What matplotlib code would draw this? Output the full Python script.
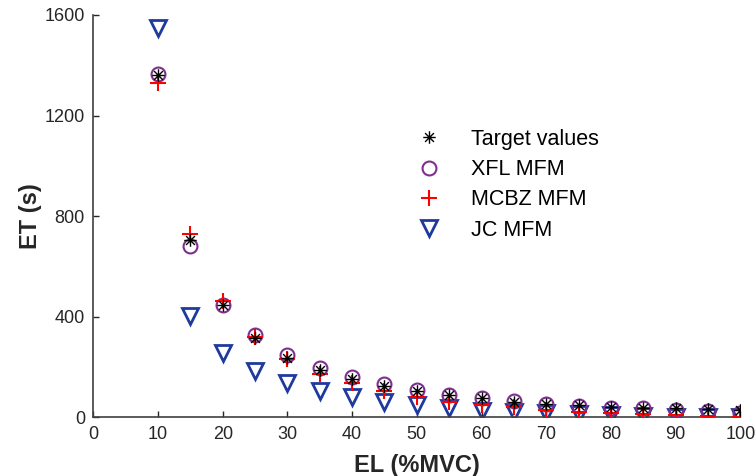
import numpy as np
import matplotlib
matplotlib.use("Agg")
import matplotlib.pyplot as plt
from matplotlib.path import Path

el = [10, 15, 20, 25, 30, 35, 40, 45, 50, 55, 60, 65, 70, 75, 80, 85, 90, 95, 100]
target = [1360, 705, 446, 314, 235, 188, 152, 124, 106, 89, 75, 62, 53, 49, 42, 38, 36, 32, 29]
xfl = [1365, 682, 445, 327, 248, 197, 159, 131, 108, 89, 75, 65, 52, 45, 38, 36, 29, 25, 18]
mcbz = [1328, 728, 462, 318, 231, 172, 135, 106, 82, 60, 49, 42, 29, 22, 16, 12, 9, 6, 3]
jc = [1550, 403, 257, 184, 135, 105, 80, 62, 49, 36, 25, 20, 16, 12, 8, 5, 3, 2, 1]

labels = ["Target values", "XFL MFM", "MCBZ MFM", "JC MFM"]

plt.rcParams['font.family'] = ['Liberation Sans', 'DejaVu Sans']

# 8-arm asterisk marker
d = 0.7071
ast = Path([(-1, 0), (1, 0), (0, -1), (0, 1), (-d, -d), (d, d), (-d, d), (d, -d)],
           [Path.MOVETO, Path.LINETO] * 4)

fig = plt.figure(figsize=(7.55, 4.76), dpi=100)
ax = fig.add_axes([0.1236, 0.1233, 0.857, 0.8452])

ax.plot(el, target, linestyle='none', marker=ast, ms=9, mec='black', mew=1.0,
        label=labels[0], zorder=5)
ax.plot(el, xfl, linestyle='none', marker='o', ms=10, mfc='none', mec='#7E2F8E', mew=1.5,
        label=labels[1], zorder=3)
ax.plot(el, mcbz, linestyle='none', marker='+', ms=12, mec='#FF0000', mew=1.5,
        label=labels[2], zorder=4)
ax.plot(el, jc, linestyle='none', marker='v', ms=11, mfc='none', mec='#1F3A9E', mew=2.0,
        label=labels[3], zorder=2)

ax.set_xlim(0, 100)
ax.set_ylim(0, 1600)
ax.set_xticks(np.arange(0, 101, 10))
ax.set_yticks([0, 400, 800, 1200, 1600])
ax.tick_params(direction='in', length=4, width=1, colors='#262626', labelsize=13,
               labelcolor='#262626', pad=6)
for s in ['top', 'right']:
    ax.spines[s].set_visible(False)
for s in ['left', 'bottom']:
    ax.spines[s].set_color('#404040')
    ax.spines[s].set_linewidth(1.2)

ax.set_xlabel('EL (%MVC)', fontsize=17, fontweight='bold', color='#262626', labelpad=8)
ax.set_ylabel('ET (s)', fontsize=17, fontweight='bold', color='#262626', labelpad=2)

leg = ax.legend(loc='upper left', bbox_to_anchor=(0.468, 0.765), frameon=False,
                fontsize=15.5, handletextpad=1.3, labelspacing=0.43, handlelength=1.3)

fig.savefig('out.png', dpi=100)
